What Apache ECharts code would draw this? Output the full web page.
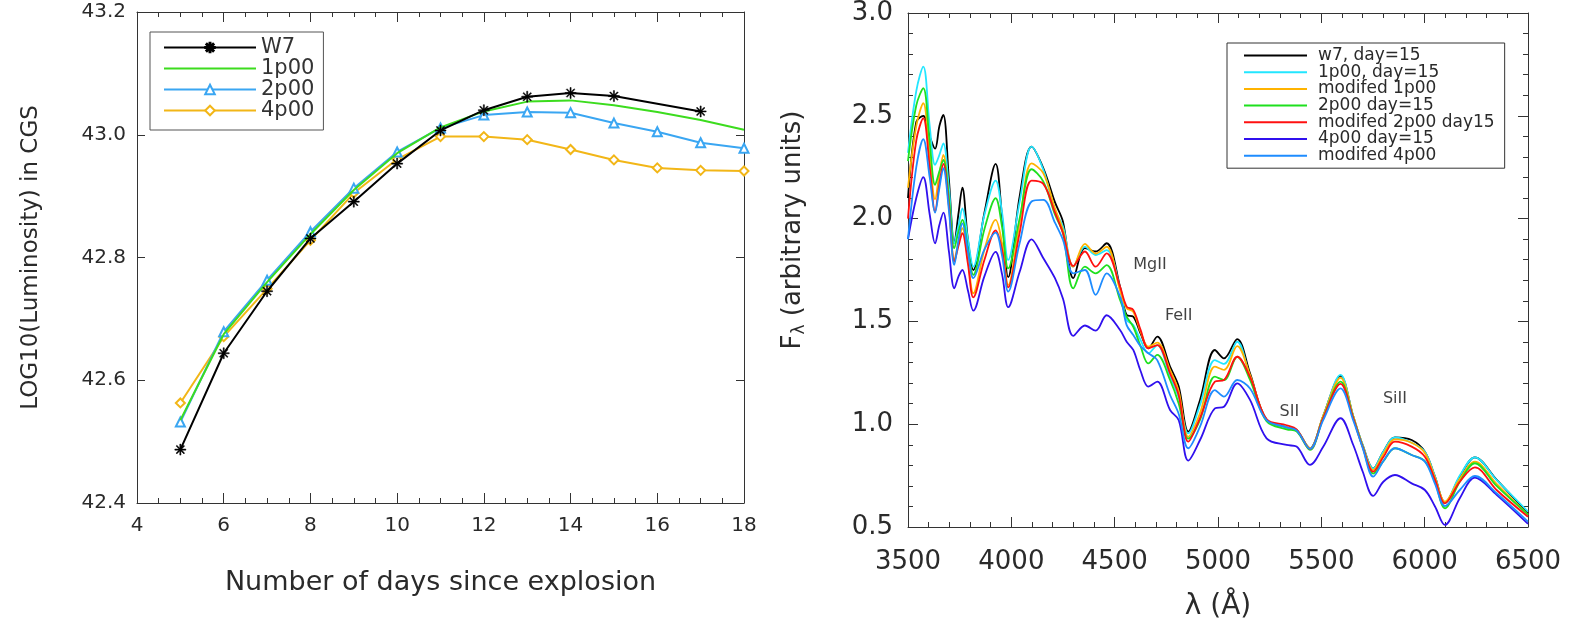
<!DOCTYPE html>
<html>
<head>
<meta charset="utf-8">
<script src="https://cdn.jsdelivr.net/npm/echarts@6/dist/echarts.min.js"></script>
<style>
html,body{margin:0;padding:0;background:#fff;}
#c{width:1582px;height:629px;}
</style>
</head>
<body>
<div id="c"></div>
<script>
// ---------- Left panel: light curves ----------
const days = [5, 6, 7, 8, 9, 10, 11, 12, 13, 14, 15, 16, 17, 18];
const lumW7   = [42.487, 42.644, 42.745, 42.831, 42.891, 42.953, 43.007, 43.040, 43.062, 43.068, 43.063, null, 43.038, null];
const lum1p00 = [42.535, 42.675, 42.760, 42.838, 42.910, 42.970, 43.012, 43.038, 43.054, 43.056, 43.048, 43.037, 43.024, 43.008];
const lum2p00 = [42.532, 42.679, 42.763, 42.842, 42.913, 42.972, 43.011, 43.032, 43.037, 43.036, 43.019, 43.005, 42.987, 42.978];
const lum4p00 = [42.563, 42.671, 42.749, 42.828, 42.905, 42.960, 42.997, 42.997, 42.992, 42.976, 42.959, 42.946, 42.942, 42.941];
const leftNames = ['W7', '1p00', '2p00', '4p00'];
const dayTicks = [4, 6, 8, 10, 12, 14, 16, 18];
const lumTicks = [42.4, 42.6, 42.8, 43.0, 43.2];

// ---------- Right panel: spectra ----------
const lam = [3500, 3540, 3574, 3605, 3631, 3652, 3671, 3698, 3724, 3745, 3763, 3790, 3816, 3870, 3924, 3955, 3985, 4040, 4098, 4155, 4211, 4250, 4300, 4356, 4408, 4461, 4526, 4558, 4590, 4625, 4663, 4706, 4768, 4810, 4856, 4913, 4985, 5029, 5093, 5155, 5235, 5332, 5380, 5445, 5509, 5593, 5654, 5700, 5751, 5800, 5856, 5937, 6001, 6050, 6098, 6170, 6243, 6348, 6500];
const specW7   = [2.10, 2.47, 2.50, 2.40, 2.34, 2.45, 2.504, 2.19, 1.88, 2.03, 2.15, 1.896, 1.75, 2.03, 2.266, 2.01, 1.715, 2.107, 2.35, 2.245, 2.08, 1.985, 1.71, 1.856, 1.84, 1.88, 1.669, 1.531, 1.523, 1.442, 1.369, 1.426, 1.28, 1.183, 0.964, 1.118, 1.361, 1.32, 1.414, 1.247, 1.021, 0.985, 0.972, 0.883, 1.04, 1.235, 1.04, 0.899, 0.785, 0.866, 0.936, 0.923, 0.866, 0.745, 0.618, 0.745, 0.839, 0.73, 0.565];
const spec1p00 = [2.32, 2.62, 2.739, 2.45, 2.261, 2.31, 2.366, 2.15, 1.88, 1.97, 2.05, 1.90, 1.766, 2.02, 2.185, 2.03, 1.799, 2.08, 2.35, 2.237, 2.04, 1.961, 1.766, 1.864, 1.823, 1.847, 1.66, 1.507, 1.482, 1.41, 1.345, 1.385, 1.231, 1.13, 0.955, 1.094, 1.312, 1.293, 1.401, 1.23, 1.021, 0.985, 0.972, 0.883, 1.04, 1.24, 1.04, 0.90, 0.785, 0.866, 0.936, 0.91, 0.866, 0.745, 0.618, 0.75, 0.839, 0.729, 0.575];
const specMod1 = [2.15, 2.45, 2.561, 2.30, 2.094, 2.22, 2.31, 2.08, 1.799, 1.89, 1.953, 1.80, 1.637, 1.85, 1.994, 1.88, 1.677, 1.98, 2.269, 2.22, 2.05, 1.945, 1.766, 1.877, 1.83, 1.863, 1.65, 1.564, 1.547, 1.45, 1.377, 1.397, 1.264, 1.16, 0.939, 1.053, 1.28, 1.264, 1.38, 1.24, 1.021, 0.985, 0.972, 0.883, 1.04, 1.225, 1.04, 0.895, 0.777, 0.855, 0.926, 0.91, 0.86, 0.74, 0.623, 0.735, 0.818, 0.71, 0.56];
const spec2p00 = [2.28, 2.55, 2.634, 2.37, 2.164, 2.23, 2.285, 2.10, 1.856, 1.94, 1.994, 1.85, 1.726, 1.95, 2.099, 1.96, 1.758, 2.00, 2.24, 2.18, 2.02, 1.929, 1.661, 1.766, 1.734, 1.774, 1.604, 1.523, 1.474, 1.38, 1.296, 1.337, 1.215, 1.10, 0.93, 1.021, 1.231, 1.215, 1.328, 1.215, 1.015, 0.975, 0.965, 0.875, 1.03, 1.207, 1.03, 0.89, 0.76, 0.82, 0.883, 0.85, 0.82, 0.72, 0.591, 0.72, 0.81, 0.70, 0.56];
const specMod2 = [2.00, 2.38, 2.488, 2.25, 2.034, 2.17, 2.266, 2.06, 1.791, 1.87, 1.929, 1.78, 1.617, 1.80, 1.942, 1.85, 1.666, 1.93, 2.185, 2.169, 2.03, 1.929, 1.77, 1.84, 1.766, 1.831, 1.669, 1.572, 1.556, 1.46, 1.369, 1.385, 1.247, 1.14, 0.915, 1.03, 1.207, 1.215, 1.328, 1.23, 1.025, 0.995, 0.975, 0.88, 1.03, 1.196, 1.03, 0.89, 0.769, 0.84, 0.915, 0.891, 0.842, 0.73, 0.615, 0.72, 0.79, 0.68, 0.55];
const spec4p00 = [1.90, 2.10, 2.201, 2.02, 1.88, 1.97, 2.029, 1.84, 1.661, 1.72, 1.75, 1.65, 1.552, 1.72, 1.838, 1.73, 1.569, 1.74, 1.899, 1.807, 1.71, 1.61, 1.43, 1.48, 1.455, 1.53, 1.458, 1.401, 1.361, 1.26, 1.183, 1.207, 1.069, 1.02, 0.823, 0.923, 1.077, 1.085, 1.199, 1.118, 0.931, 0.899, 0.891, 0.802, 0.89, 1.029, 0.90, 0.77, 0.651, 0.72, 0.753, 0.712, 0.68, 0.60, 0.51, 0.64, 0.74, 0.656, 0.515];
const specMod4 = [1.90, 2.25, 2.386, 2.20, 2.029, 2.15, 2.245, 2.04, 1.775, 1.90, 1.977, 1.84, 1.71, 1.85, 1.932, 1.82, 1.645, 1.88, 2.083, 2.091, 1.98, 1.896, 1.734, 1.75, 1.629, 1.734, 1.62, 1.482, 1.434, 1.38, 1.345, 1.312, 1.142, 1.05, 0.883, 0.988, 1.166, 1.134, 1.215, 1.174, 1.02, 0.985, 0.97, 0.88, 1.02, 1.174, 1.02, 0.885, 0.745, 0.82, 0.883, 0.85, 0.818, 0.71, 0.602, 0.68, 0.748, 0.664, 0.526];
const rightNames = ['w7, day=15', '1p00, day=15', 'modifed 1p00', '2p00 day=15', 'modifed 2p00 day15', '4p00 day=15', 'modifed 4p00'];
const lamTicks = [3500, 4000, 4500, 5000, 5500, 6000, 6500];
const fluxTicks = [0.5, 1.0, 1.5, 2.0, 2.5, 3.0];
// line identifications
const annoNames = ['MgII', 'FeII', 'SII', 'SiII'];
const annoLam   = [4671, 4810, 5345, 5856];
const annoFlux  = [1.774, 1.527, 1.06, 1.123];

// ---------- styling ----------
const FONT = 'DejaVu Sans';
const TXT = '#2a2a2a';
const AX = '#333';
const asterisk = 'path://M9,0h2v20h-2z M0,9h20v2h-20z M2.2,3.6L3.6,2.2L17.8,16.4L16.4,17.8Z M16.4,2.2L17.8,3.6L3.6,17.8L2.2,16.4Z';

function pairs(xs, ys) {
  const out = [];
  xs.forEach((x, i) => { if (ys[i] !== null && ys[i] !== undefined) out.push([x, ys[i]]); });
  return out;
}

function valAxis(o) {
  return Object.assign({
    type: 'value',
    axisLine: { show: true, lineStyle: { color: AX, width: 1 } },
    axisTick: { show: true, inside: true, length: 10, lineStyle: { color: AX } },
    splitLine: { show: false },
    axisLabel: { show: false },
    nameTextStyle: { fontFamily: FONT, color: TXT }
  }, o);
}

const chart = echarts.init(document.getElementById('c'), null, { renderer: 'canvas' });

const leftColors = ['#000000', '#3cdc1e', '#3aa6f2', '#f2b617'];
const leftData = [lumW7, lum1p00, lum2p00, lum4p00];
const leftSymbols = [asterisk, 'none', 'emptyTriangle', 'emptyDiamond'];
const leftSymSizes = [11, 0, 9, 9];

const rightColors = ['#000000', '#22e6ff', '#ffb300', '#1ee01e', '#ff1010', '#3010ee', '#1e8cff'];
const rightData = [specW7, spec1p00, specMod1, spec2p00, specMod2, spec4p00, specMod4];

const series = [];
leftNames.forEach((n, i) => {
  series.push({
    name: n, type: 'line', xAxisIndex: 0, yAxisIndex: 0,
    data: pairs(days, leftData[i]),
    symbol: leftSymbols[i], symbolSize: leftSymSizes[i], showSymbol: leftSymbols[i] !== 'none',
    lineStyle: { color: leftColors[i], width: 2 },
    itemStyle: { color: leftColors[i], borderColor: leftColors[i], borderWidth: i === 0 ? 0.5 : 1.5 },
    z: 10 - i
  });
});
rightNames.forEach((n, i) => {
  series.push({
    name: n, type: 'line', xAxisIndex: 2, yAxisIndex: 2,
    data: pairs(lam, rightData[i]),
    symbol: 'none', smooth: 0.35,
    lineStyle: { color: rightColors[i], width: 1.8 },
    itemStyle: { color: rightColors[i] },
    z: 3
  });
});
series.push({
  name: 'labels', type: 'scatter', xAxisIndex: 2, yAxisIndex: 2,
  data: annoNames.map((t, i) => ({ name: t, value: [annoLam[i], annoFlux[i]] })),
  symbolSize: 0, silent: true,
  label: { show: true, position: 'inside', formatter: p => p.name, fontFamily: FONT, fontSize: 16, color: '#111' },
  z: 5
});

const option = {
  animation: false,
  backgroundColor: '#ffffff',
  grid: [
    { left: 137, top: 12, width: 607, height: 491 },
    { left: 908, top: 13, width: 620, height: 514 }
  ],
  xAxis: [
    valAxis({ gridIndex: 0, position: 'bottom', min: dayTicks[0], max: dayTicks[dayTicks.length - 1], interval: 2,
      minorTick: { show: true, splitNumber: 4, length: 5, lineStyle: { color: AX } },
      axisLabel: { show: true, fontFamily: FONT, fontSize: 20, color: TXT, margin: 13 },
      name: 'Number of days since explosion', nameLocation: 'middle', nameGap: 66,
      nameTextStyle: { fontFamily: FONT, fontSize: 27, color: TXT } }),
    valAxis({ gridIndex: 0, position: 'top', min: dayTicks[0], max: dayTicks[dayTicks.length - 1], interval: 2,
      minorTick: { show: true, splitNumber: 4, length: 5, lineStyle: { color: AX } } }),
    valAxis({ gridIndex: 1, position: 'bottom', min: lamTicks[0], max: lamTicks[lamTicks.length - 1], interval: 500,
      minorTick: { show: true, splitNumber: 5, length: 5, lineStyle: { color: AX } },
      axisLabel: { show: true, fontFamily: FONT, fontSize: 26, color: TXT, margin: 22, formatter: v => String(v) },
      name: 'λ (Å)', nameLocation: 'middle', nameGap: 66,
      nameTextStyle: { fontFamily: FONT, fontSize: 28, color: TXT } }),
    valAxis({ gridIndex: 1, position: 'top', min: lamTicks[0], max: lamTicks[lamTicks.length - 1], interval: 500,
      minorTick: { show: true, splitNumber: 5, length: 5, lineStyle: { color: AX } } })
  ],
  yAxis: [
    valAxis({ gridIndex: 0, position: 'left', min: lumTicks[0], max: lumTicks[lumTicks.length - 1], interval: 0.2,
      axisTick: { show: true, inside: true, length: 8, lineStyle: { color: AX } },
      axisLabel: { show: true, fontFamily: FONT, fontSize: 20, color: TXT, margin: 11, formatter: v => v.toFixed(1) },
      name: 'LOG10(Luminosity) in CGS', nameLocation: 'middle', nameGap: 94,
      nameTextStyle: { fontFamily: FONT, fontSize: 23, color: TXT } }),
    valAxis({ gridIndex: 0, position: 'right', min: lumTicks[0], max: lumTicks[lumTicks.length - 1], interval: 0.2,
      axisTick: { show: true, inside: true, length: 8, lineStyle: { color: AX } } }),
    valAxis({ gridIndex: 1, position: 'left', min: fluxTicks[0], max: fluxTicks[fluxTicks.length - 1], interval: 0.5,
      minorTick: { show: true, splitNumber: 5, length: 5, lineStyle: { color: AX } },
      axisLabel: { show: true, fontFamily: FONT, fontSize: 26, color: TXT, margin: 15, formatter: v => v.toFixed(1) },
      name: '{f|F}{s|λ}{r| (arbitrary units)}', nameLocation: 'middle', nameGap: 100,
      nameTextStyle: { fontFamily: FONT, fontSize: 26, color: TXT, padding: [0, 0, 0, 80],
        rich: { f: { fontFamily: FONT, fontSize: 26, color: TXT, lineHeight: 30 },
                s: { fontFamily: FONT, fontSize: 17, color: TXT, lineHeight: 12, verticalAlign: 'bottom' },
                r: { fontFamily: FONT, fontSize: 26, color: TXT, lineHeight: 30 } } } }),
    valAxis({ gridIndex: 1, position: 'right', min: fluxTicks[0], max: fluxTicks[fluxTicks.length - 1], interval: 0.5,
      minorTick: { show: true, splitNumber: 5, length: 5, lineStyle: { color: AX } } })
  ],
  legend: [
    { data: leftNames.map(n => n === '1p00' ? { name: n, itemStyle: { opacity: 0 } } : { name: n }),
      orient: 'vertical', left: 150, top: 32,
      padding: [5, 9, 9, 13], itemWidth: 92, itemHeight: 12, itemGap: 0,
      borderColor: '#555', borderWidth: 1, backgroundColor: '#fff',
      textStyle: { fontFamily: FONT, fontSize: 21, color: '#333' }, selectedMode: false },
    { data: rightNames, orient: 'vertical', left: 1227, top: 43,
      padding: [4, 10, 4, 16], itemWidth: 63, itemHeight: 14, itemGap: -0.3,
      itemStyle: { opacity: 0 },
      borderColor: '#333', borderWidth: 1, backgroundColor: '#fff',
      textStyle: { fontFamily: FONT, fontSize: 17, color: TXT, padding: [0, 0, 0, 6] }, selectedMode: false }
  ],
  series: series
};
chart.setOption(option);
</script>
</body>
</html>
